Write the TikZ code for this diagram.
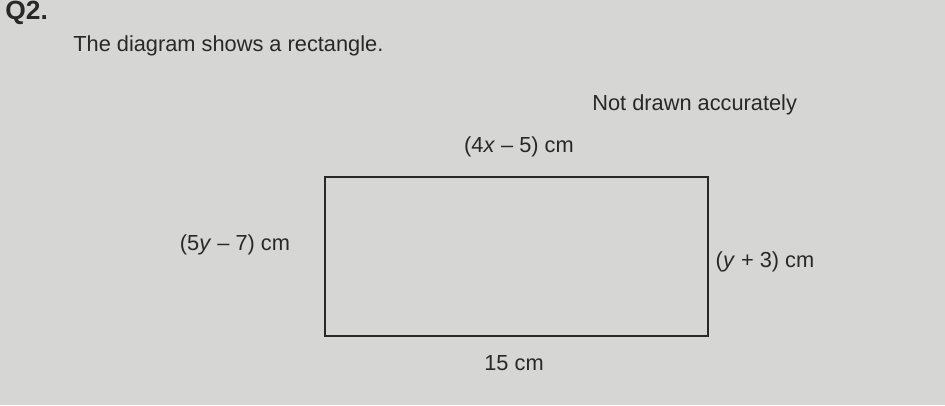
\documentclass[tikz,border=0pt]{standalone}
\usepackage{fontspec}
\setmainfont{Liberation Sans}
\definecolor{paper}{RGB}{214,214,212}
\definecolor{ink}{RGB}{40,40,40}
\tikzset{
  txt/.style={text=ink, inner sep=0pt, font=\fontsize{12.4}{14}\selectfont},
  side/.style={txt},
}
\begin{document}
\begin{tikzpicture}[x=0.02cm, y=-0.02cm]

\fill[paper] (0,0) rectangle (945,405);
\useasboundingbox (0,0) rectangle (945,405);

\node[txt, anchor=west, font=\fontsize{15}{17}\selectfont\bfseries] (qnum) at (5,13) {Q2.};
\node[txt, anchor=west] (intro) at (73,46) {The diagram shows a rectangle.};
\node[txt, anchor=west] (note) at (592,105) {Not drawn accurately};

\coordinate (tl) at (325,177);
\coordinate (br) at (708,336);
\draw[ink, line width=0.6pt] (tl) rectangle (br);

\node[side] (top) at (519,147) {(4\textit{x} – 5) cm};
\node[side] (left) at (235,245) {(5\textit{y} – 7) cm};
\node[side] (right) at (765,262) {(\textit{y} + 3) cm};
\node[side] (bottom) at (514,363) {15 cm};

\end{tikzpicture}
\end{document}
